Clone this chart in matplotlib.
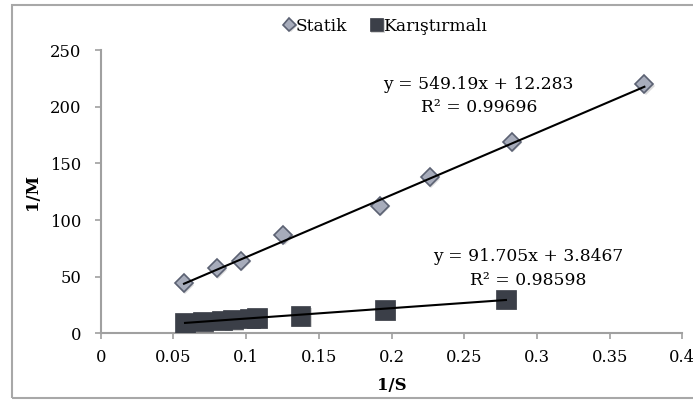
import matplotlib
matplotlib.use("Agg")
import matplotlib.pyplot as plt
import matplotlib.patheffects as pe
from matplotlib.patches import Rectangle
import numpy as np

# --- Datos ---
x_statik = [0.0573, 0.0798, 0.0963, 0.1256, 0.192, 0.2265, 0.2827, 0.3739]
y_statik = [44.1, 57.4, 63.8, 86.8, 112.4, 137.7, 169.1, 219.8]

x_karis = [0.058, 0.0704, 0.0834, 0.091, 0.1026, 0.1075, 0.1375, 0.1955, 0.2787]
y_karis = [9.2, 10.3, 11.5, 12.2, 13.3, 13.7, 15.3, 20.6, 30.0]

# trendline (Excel) coefficients
egim = [549.19, 91.705]
kesim = [12.283, 3.8467]
r2 = [0.99696, 0.98598]

etiketler = ["Statik", "Karıştırmalı"]
xticks = [0, 0.05, 0.1, 0.15, 0.2, 0.25, 0.3, 0.35, 0.4]
xtick_labels = ["0", "0.05", "0.1", "0.15", "0.2", "0.25", "0.3", "0.35", "0.4"]
yticks = [0, 50, 100, 150, 200, 250]

plt.rcParams['font.family'] = ['DejaVu Serif']

fig = plt.figure(figsize=(6.93, 4.04), dpi=100)
ax = fig.add_axes([0.1453, 0.175, 0.9846 - 0.1453, 0.876 - 0.175])

sombra = [pe.SimplePatchShadow(offset=(1.0, -1.0), alpha=0.18), pe.Normal()]

ax.plot(x_statik, y_statik, linestyle='none', marker='D', markersize=9.2,
        markerfacecolor='#a7acbb', markeredgecolor='#5b6172', markeredgewidth=1.2,
        label=etiketler[0], zorder=3, path_effects=sombra)
ax.plot(x_karis, y_karis, linestyle='none', marker='s', markersize=14,
        markerfacecolor='#3b3f48', markeredgecolor='#3b3f48', markeredgewidth=0.5,
        label=etiketler[1], zorder=3, path_effects=sombra)

# trendlines
for xs, m, b in [(x_statik, egim[0], kesim[0]), (x_karis, egim[1], kesim[1])]:
    xl = np.array([min(xs), max(xs)])
    ax.plot(xl, m * xl + b, color='black', linewidth=1.5, zorder=4)

fs = 12.3
ax.text(0.260, 220, "y = %.2fx + %.3f" % (egim[0], kesim[0]), ha='center', va='center', fontsize=fs)
ax.text(0.260, 199, "R² = %.5f" % r2[0], ha='center', va='center', fontsize=fs)
ax.text(0.294, 67.6, "y = %.3fx + %.4f" % (egim[1], kesim[1]), ha='center', va='center', fontsize=fs)
ax.text(0.294, 47, "R² = %.5f" % r2[1], ha='center', va='center', fontsize=fs)

ax.set_xlim(0, 0.4)
ax.set_ylim(0, 250)
ax.set_xticks(xticks)
ax.set_xticklabels(xtick_labels)
ax.set_yticks(yticks)

for s in ['top', 'right']:
    ax.spines[s].set_visible(False)
for s in ['left', 'bottom']:
    ax.spines[s].set_color('#a0a0a0')
    ax.spines[s].set_linewidth(1.5)
ax.tick_params(axis='both', direction='out', length=4, width=1.2, color='#a0a0a0', labelsize=11.8)
ax.tick_params(axis='y', pad=10)
ax.tick_params(axis='x', pad=7)

ax.set_xlabel("1/S", fontsize=12, fontweight='bold', labelpad=8)
ax.set_ylabel("1/M", fontsize=12, fontweight='bold', labelpad=6)

ax.legend(loc='center', bbox_to_anchor=(0.49, 1.085), ncol=2, frameon=False,
          fontsize=12.3, markerscale=0.7, handlelength=0.6, handletextpad=0.1,
          columnspacing=1.4)

# marco exterior
fig.patches.append(Rectangle((12 / 693, 1 - 398 / 404), 1.2, (398 - 5) / 404,
                             transform=fig.transFigure, fill=False,
                             edgecolor='#a8a8a8', linewidth=1.5))

fig.savefig("out.png", dpi=100)
